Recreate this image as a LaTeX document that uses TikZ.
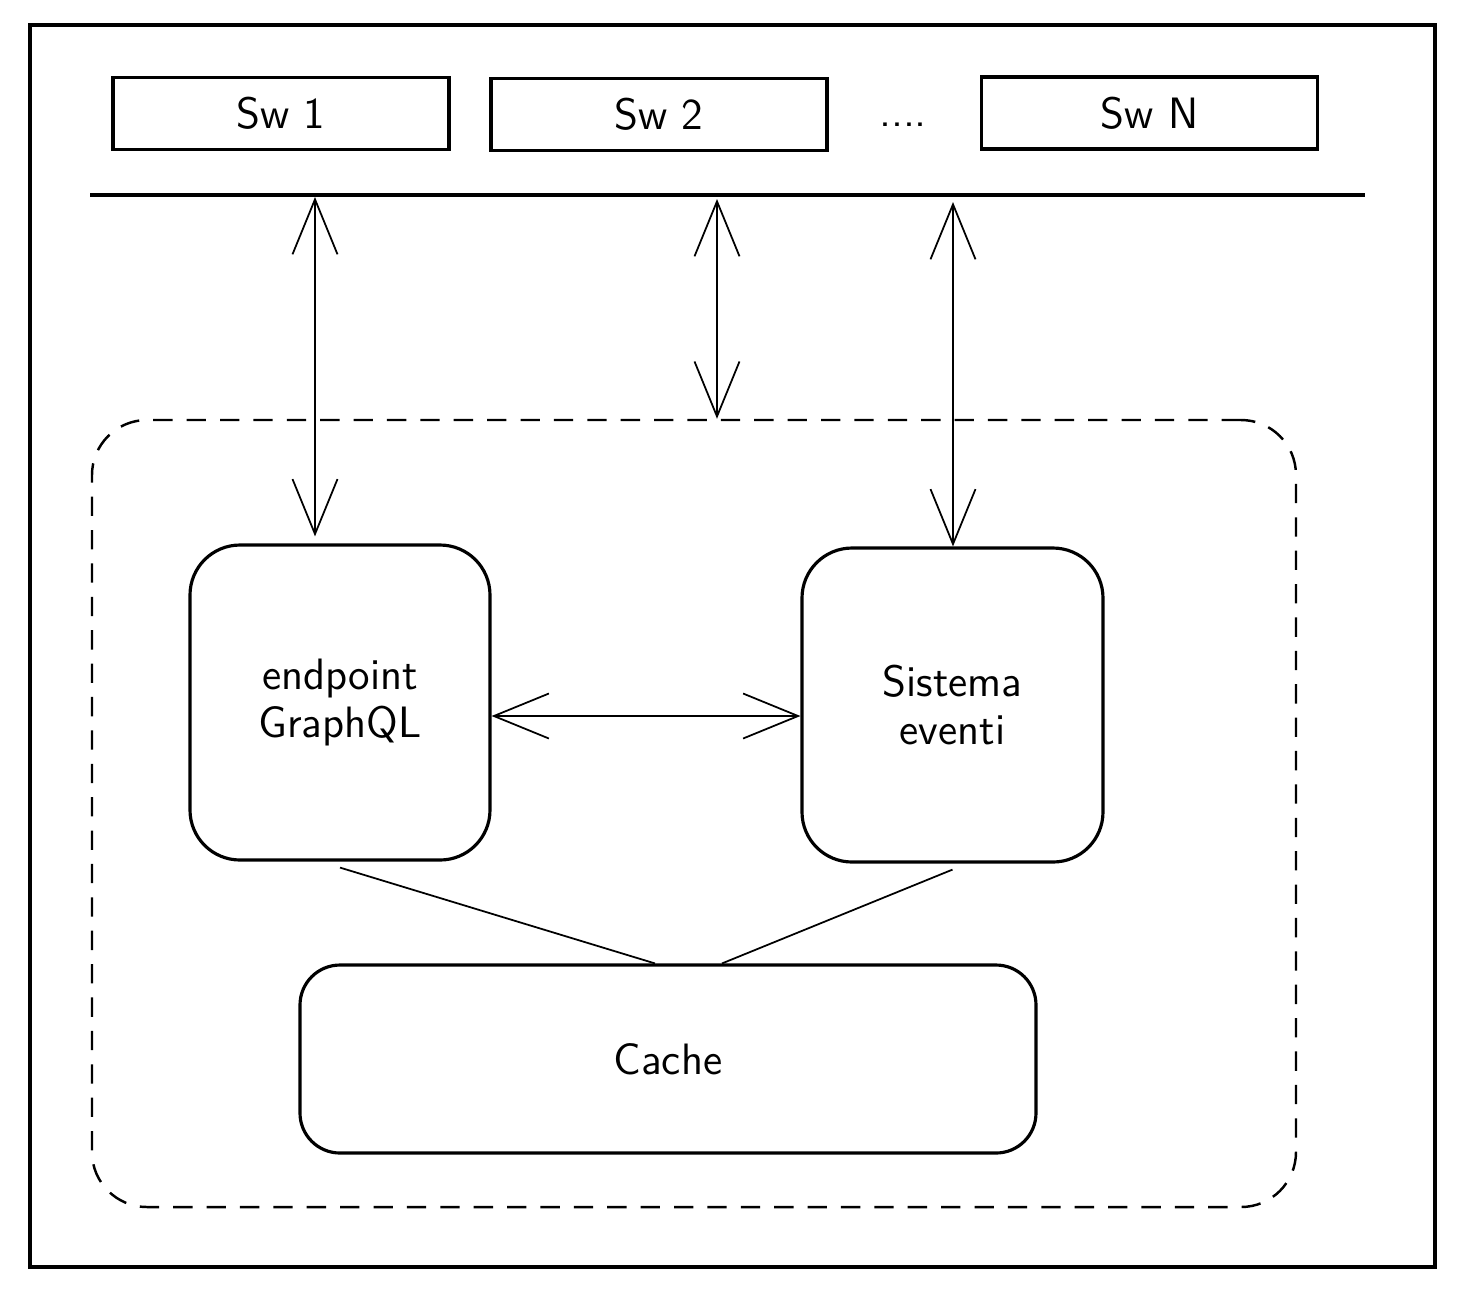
\documentclass[tikz,border=0pt]{standalone}
\usetikzlibrary{arrows.meta}
\begin{document}
\begin{tikzpicture}[
	every node/.style={font=\sffamily\fontsize{12.5}{13.5}\selectfont},
	swbox/.style={draw,line width=0.9pt,minimum width=3.36cm,minimum height=0.72cm},
	block/.style={draw,line width=0.9pt,rounded corners=0.5cm,align=center},
	link/.style={line width=0.5pt,{Straight Barb[length=5.5mm,width=4.5mm]}-{Straight Barb[length=5.5mm,width=4.5mm]}}]
	\useasboundingbox (0,0) rectangle (14.6,-12.92);
	\node [draw,line width=0.9pt,minimum width=14.05cm,minimum height=12.42cm] (frame) at (7.325,-6.46) {};
	\begin{scope}[every node/.append style={swbox}]
	\node (sw1) at (2.81,-1.135) {Sw 1};
	\node (sw2) at (6.59,-1.145) {Sw 2};
	\node (swn) at (11.495,-1.13) {Sw N};
	\end{scope}
	\node (dots) at (9.03,-1.25) {....};
	\coordinate (busL) at (0.9,-1.95);
	\coordinate (busR) at (13.65,-1.95);
	\draw [line width=0.9pt] (busL) -- (busR);
	\node [draw,line width=0.7pt,dash pattern=on 5.5pt off 4pt,rounded corners=0.55cm,minimum width=12.04cm,minimum height=7.87cm] (core) at (6.94,-8.135) {};
	\node [block,minimum width=3.0cm,minimum height=3.15cm] (gql) at (3.40,-7.025) {endpoint\\GraphQL};
	\node [block,minimum width=3.01cm,minimum height=3.14cm] (evt) at (9.525,-7.05) {Sistema\\eventi};
	\node [block,rounded corners=0.4cm,minimum width=7.36cm,minimum height=1.88cm] (cache) at (6.68,-10.59) {Cache};
	\coordinate (b1) at (3.15,-1.97);
	\coordinate (b2) at (7.17,-1.99);
	\coordinate (b3) at (9.53,-2.02);
	\draw [link] (b1) -- ([yshift=2pt]b1 |- gql.north);
	\draw [link] (b2) -- (b2 |- core.north);
	\draw [link] (b3) -- (b3 |- evt.north);
	\draw [link] ([yshift=-1.35mm]gql.east) -- ([yshift=-1.1mm]evt.west);
	\draw [line width=0.5pt] ([yshift=-0.6mm]gql.south) -- ([xshift=-1.3mm]cache.north);
	\draw [line width=0.5pt] ([yshift=-0.6mm]evt.south) -- ([xshift=5.4mm]cache.north);
\end{tikzpicture}
\end{document}
